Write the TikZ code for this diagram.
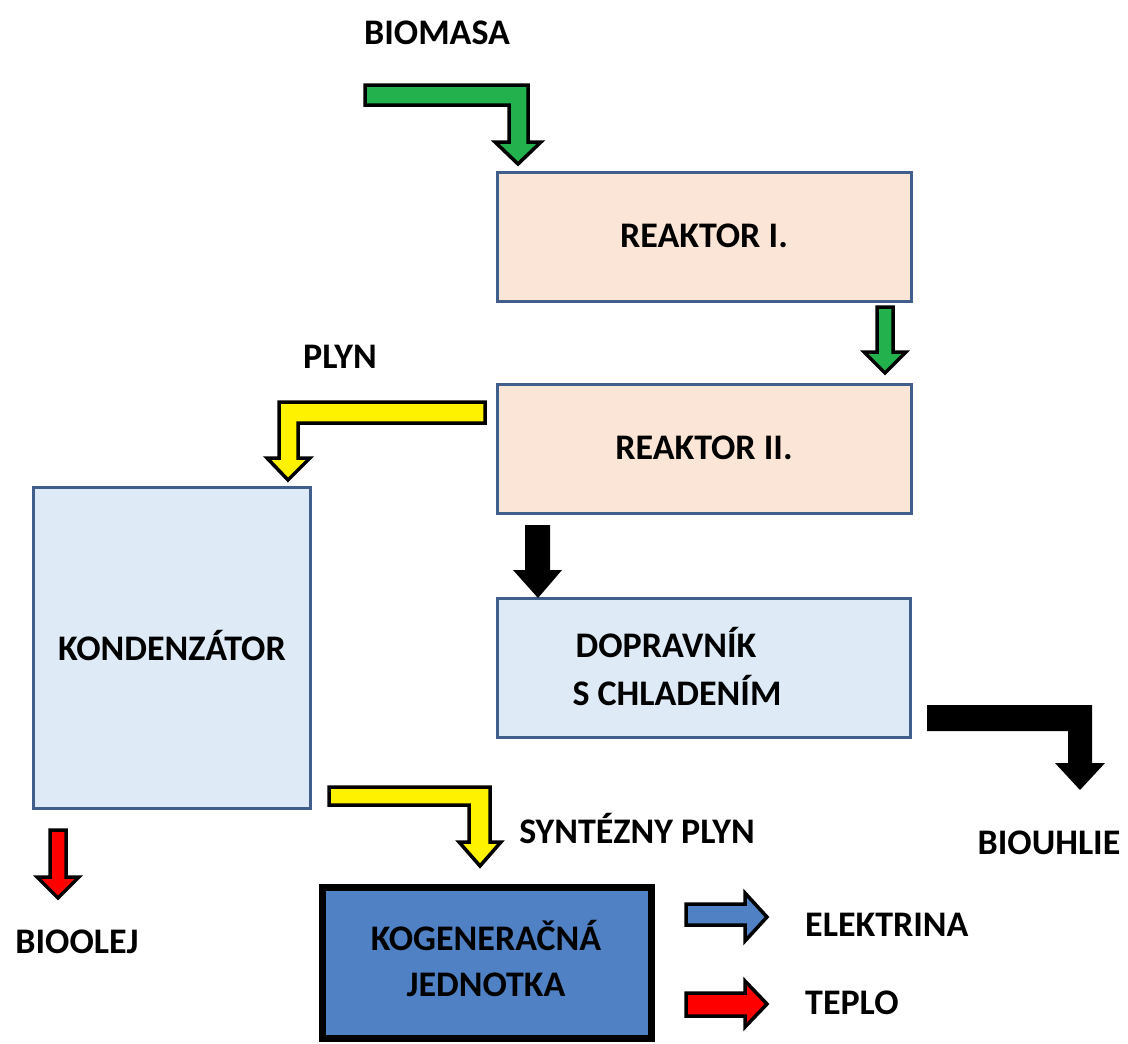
\documentclass[tikz,border=0pt]{standalone}
\usepackage{fontspec}
\setmainfont{Carlito}
\begin{document}
\begin{tikzpicture}[x=1pt,y=-1pt,
  lbl/.style={font=\fontsize{36}{40}\selectfont\bfseries, inner sep=0pt, align=center},
  procbox/.style={draw={rgb,255:red,65;green,95;blue,140}, line width=3pt},
  blockarrow/.style={draw=black, line width=3.5pt, line join=miter, miter limit=10}]
\definecolor{peach}{RGB}{251,229,214}
\definecolor{lightbl}{RGB}{222,235,247}
\definecolor{kogen}{RGB}{79,129,196}
\definecolor{agreen}{RGB}{34,177,76}
\useasboundingbox (0,0) rectangle (1128,1044);
\fill[white] (0,0) rectangle (1128,1044);
% boxes
\draw[procbox, fill=peach] (497,172) rectangle (911,301);
\node[lbl] (r1) at (704,236) {REAKTOR I.};
\draw[procbox, fill=peach] (497,384) rectangle (911,513);
\node[lbl] (r2) at (704,448) {REAKTOR II.};
\draw[procbox, fill=lightbl] (497,598) rectangle (910,737);
\node[lbl] (dop1) at (666,643) {DOPRAVNÍK};
\node[lbl] (dop2) at (677,690) {S CHLADENÍM};
\draw[procbox, fill=lightbl] (33,487) rectangle (310,808);
\node[lbl] (kon) at (172,645) {KONDENZÁTOR};
\draw[fill=kogen, draw=black, line width=7pt] (322,887) rectangle (651,1038);
\node[lbl] (kog1) at (486,935) {KOGENERAČNÁ};
\node[lbl] (kog2) at (486,985) {JEDNOTKA};
% labels
\node[lbl] (bio) at (437,33) {BIOMASA};
\node[lbl] (plyn) at (340,357) {PLYN};
\node[lbl] (syn) at (637,828) {SYNTÉZNY PLYN};
\node[lbl] (uhl) at (1049,843) {BIOUHLIE};
\node[lbl] (olej) at (77,942) {BIOOLEJ};
\node[lbl, anchor=west] (el) at (805,925) {ELEKTRINA};
\node[lbl, anchor=west] (tep) at (805,1003) {TEPLO};
% arrows
\draw[blockarrow, fill=agreen] (365,85) -- (528,85) -- (528,142) -- (541,142) -- (518,164) -- (495,142) -- (509,142) -- (509,105) -- (365,105) -- cycle;
\draw[blockarrow, fill=agreen] (877,307) -- (893,307) -- (893,352) -- (906,352) -- (885,373) -- (864,352) -- (877,352) -- cycle;
\draw[blockarrow, fill=yellow] (485,402) -- (279,402) -- (279,458) -- (267,458) -- (288,480) -- (310,458) -- (298,458) -- (298,423) -- (485,423) -- cycle;
\fill[black] (525,525) -- (550,525) -- (550,570) -- (562,570) -- (538,598) -- (513,570) -- (525,570) -- cycle;
\fill[black] (927,705) -- (1092,705) -- (1092,763) -- (1105,763) -- (1080,790) -- (1055,763) -- (1068,763) -- (1068,731) -- (927,731) -- cycle;
\draw[blockarrow, fill=yellow] (329,787) -- (490,787) -- (490,842) -- (501,842) -- (480,866) -- (459,842) -- (469,842) -- (469,805) -- (329,805) -- cycle;
\draw[blockarrow, fill=red] (50,830) -- (66,830) -- (66,877) -- (79,877) -- (58,898) -- (37,877) -- (50,877) -- cycle;
\draw[blockarrow, fill=kogen] (686,904) -- (745,904) -- (745,893) -- (767,917) -- (745,941) -- (745,925) -- (686,925) -- cycle;
\draw[blockarrow, fill=red] (686,993) -- (745,993) -- (745,981) -- (767,1004) -- (745,1027) -- (745,1016) -- (686,1016) -- cycle;
\end{tikzpicture}
\end{document}
